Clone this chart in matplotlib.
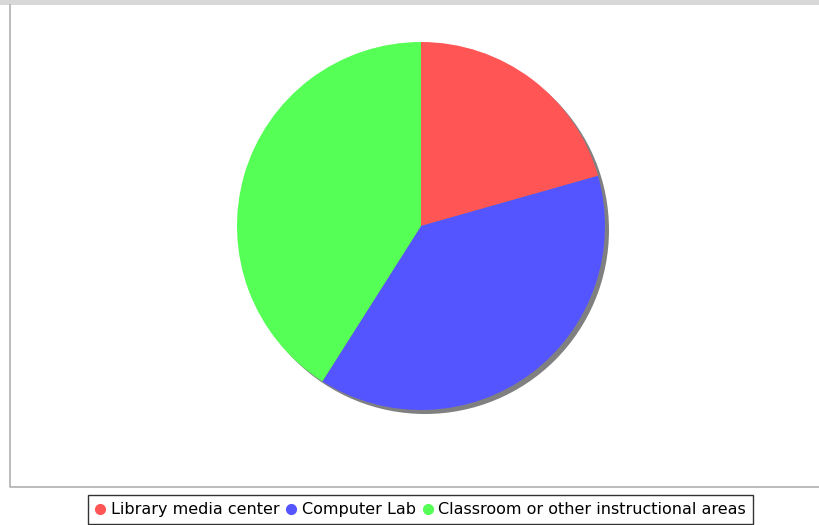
import matplotlib.pyplot as plt
from matplotlib.patches import Circle, Rectangle
from matplotlib.lines import Line2D

# data
labels = ["Library media center", "Computer Lab", "Classroom or other instructional areas"]
shares = [20.6, 38.4, 41.0]
colors = ["#FF5555", "#5555FF", "#55FF55"]

W, H = 820, 525
fig = plt.figure(figsize=(W / 100, H / 100), dpi=100, facecolor="white")
ax = fig.add_axes([0, 0, 1, 1])

# grey strip at the top and the plot border
ax.add_patch(Rectangle((0, H - 5), W, 5, color="#d8d8d8", lw=0))
ax.plot([10.5, 10.5, W], [H - 5, H - 487, H - 487], color="#b0b0b0", lw=1.2)

cx, cy, r = 421, H - 226, 184

# shadow
ax.add_patch(Circle((cx + 4, cy - 4), r, color="#808080", lw=0, zorder=1))

wedges, _ = ax.pie(shares, colors=colors, startangle=90, counterclock=False,
                   center=(cx, cy), radius=r, frame=True,
                   wedgeprops=dict(linewidth=0))
for w in wedges:
    w.set_zorder(2)
ax.set_xlim(0, W)
ax.set_ylim(0, H)
ax.set_aspect("equal")
ax.axis("off")

handles = [Line2D([], [], marker="o", ls="", color=c, markersize=7) for c in colors]
leg = fig.legend(handles, labels, loc="upper center", bbox_to_anchor=(420.5 / W, 1 - 495 / H),
                 ncol=3, frameon=True, fancybox=False, fontsize=11.5,
                 handletextpad=0.35, columnspacing=0.45, handlelength=0.6,
                 borderpad=0.45, borderaxespad=0)
leg.get_frame().set_edgecolor("black")
leg.get_frame().set_linewidth(1)

fig.savefig("out.png", dpi=100)
